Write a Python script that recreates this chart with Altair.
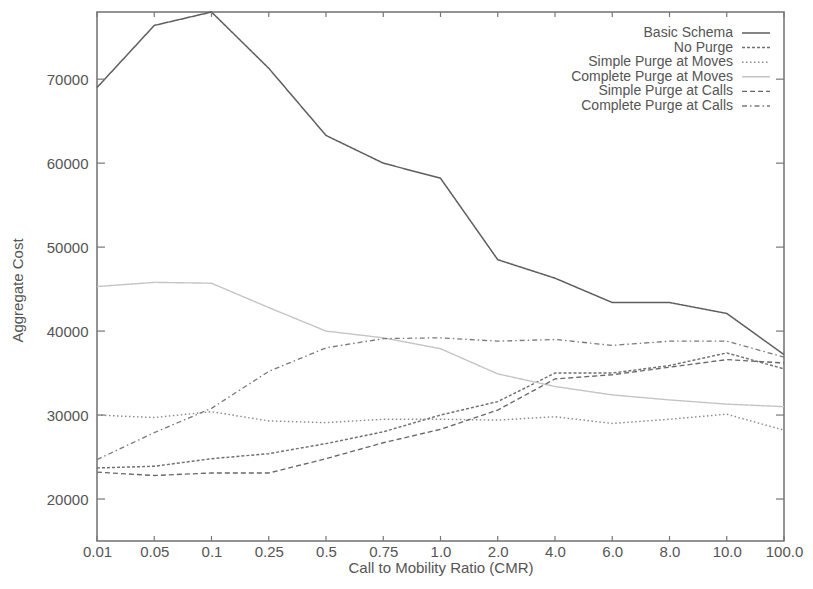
import altair as alt
import pandas as pd

cmr = ["0.01", "0.05", "0.1", "0.25", "0.5", "0.75", "1.0", "2.0", "4.0", "6.0", "8.0", "10.0", "100.0"]
series_names = ["Basic Schema", "No Purge", "Simple Purge at Moves",
                "Complete Purge at Moves", "Simple Purge at Calls", "Complete Purge at Calls"]
basic = [69000, 76400, 78000, 71300, 63300, 60000, 58200, 48500, 46300, 43400, 43400, 42100, 37200]
no_purge = [23700, 23900, 24800, 25400, 26600, 28000, 30000, 31600, 35000, 35000, 35900, 37400, 35500]
simple_moves = [30000, 29700, 30400, 29300, 29100, 29500, 29500, 29400, 29800, 29000, 29500, 30100, 28200]
complete_moves = [45300, 45800, 45700, 42800, 40000, 39200, 37900, 34900, 33400, 32400, 31800, 31300, 31000]
simple_calls = [23200, 22800, 23100, 23100, 24800, 26700, 28300, 30600, 34300, 34800, 35700, 36600, 36200]
complete_calls = [24700, 27900, 30800, 35200, 38000, 39100, 39200, 38800, 39000, 38300, 38800, 38800, 36900]
y_ticks = [20000, 30000, 40000, 50000, 60000, 70000]

all_series = [basic, no_purge, simple_moves, complete_moves, simple_calls, complete_calls]
rows = []
for name, vals in zip(series_names, all_series):
    for c, v in zip(cmr, vals):
        rows.append({"series": name, "cmr": c, "cost": v})
df = pd.DataFrame(rows)

colors = ["#5e5e5e", "#707070", "#8a8a8a", "#c4c4c4", "#686868", "#7a7a7a"]
dashes = [[1, 0], [3, 2], [1.5, 2.5], [1, 0], [5, 3], [5, 3, 1.5, 3]]
widths = [1.5, 1.3, 1.3, 1.0, 1.3, 1.3]

FONT = "Liberation Sans"
TXT = "#555555"
W, H = 687, 529

xs = alt.X("cmr:O", sort=cmr, scale=alt.Scale(type="point", padding=0),
           axis=alt.Axis(title="Call to Mobility Ratio (CMR)", ticks=False, domain=False,
                         labelAngle=0, labelPadding=3, titlePadding=1, grid=False))
ys = alt.Y("cost:Q", scale=alt.Scale(domain=[15000, 78000], nice=False, zero=False),
           axis=alt.Axis(title="Aggregate Cost", values=y_ticks, format="d", ticks=False,
                         domain=False, grid=False, labelPadding=9, titleX=-72, titleY=278))

color_scale = alt.Scale(domain=series_names, range=colors)
dash_scale = alt.Scale(domain=series_names, range=dashes)
width_scale = alt.Scale(domain=series_names, range=widths)

lines = alt.Chart(df).mark_line().encode(
    x=xs, y=ys,
    color=alt.Color("series:N", scale=color_scale, legend=None),
    strokeDash=alt.StrokeDash("series:N", scale=dash_scale, legend=None),
    strokeWidth=alt.StrokeWidth("series:N", scale=width_scale, legend=None),
)

ytick_df = pd.DataFrame({"cost": y_ticks})
yt_left = alt.Chart(ytick_df).mark_rule(color="#777", strokeWidth=1.2).encode(
    y=alt.Y("cost:Q"), x=alt.value(0), x2=alt.value(8))
yt_right = alt.Chart(ytick_df).mark_rule(color="#777", strokeWidth=1.2).encode(
    y=alt.Y("cost:Q"), x=alt.value(W - 8), x2=alt.value(W))

xtick_df = pd.DataFrame({"cmr": cmr})
xt_top = alt.Chart(xtick_df).mark_rule(color="#777", strokeWidth=1.2).encode(
    x=alt.X("cmr:O", sort=cmr), y=alt.value(0), y2=alt.value(5))
xt_bot = alt.Chart(xtick_df).mark_rule(color="#777", strokeWidth=1.2).encode(
    x=alt.X("cmr:O", sort=cmr), y=alt.value(H), y2=alt.value(H - 5))

leg_df = pd.DataFrame({"series": series_names, "idx": list(range(len(series_names)))})
leg_text = alt.Chart(leg_df).mark_text(align="right", baseline="middle", font=FONT,
                                       fontSize=14, color=TXT).transform_calculate(
    ly="21 + datum.idx * 14.6").encode(
    x=alt.value(636), y=alt.Y("ly:Q", scale=None, axis=None), text="series:N")
leg_line = alt.Chart(leg_df).mark_rule().transform_calculate(
    ly="21 + datum.idx * 14.6").encode(
    x=alt.value(645), x2=alt.value(673), y=alt.Y("ly:Q", scale=None, axis=None),
    color=alt.Color("series:N", scale=color_scale, legend=None),
    strokeDash=alt.StrokeDash("series:N", scale=dash_scale, legend=None),
    strokeWidth=alt.StrokeWidth("series:N", scale=width_scale, legend=None),
)

chart = alt.layer(lines, yt_left, yt_right, xt_top, xt_bot, leg_text, leg_line).properties(
    width=W, height=H,
    autosize=alt.AutoSizeParams(type="none"),
    padding={"left": 89, "top": 4, "right": 21, "bottom": 40},
    background="white",
).configure_view(stroke="#707070", strokeWidth=1.5).configure_axis(
    labelFont=FONT, titleFont=FONT, labelFontSize=15, titleFontSize=15,
    labelColor=TXT, titleColor=TXT, titleFontWeight="normal")

chart.save("out.html", embed_options={"renderer": "svg", "actions": False})
